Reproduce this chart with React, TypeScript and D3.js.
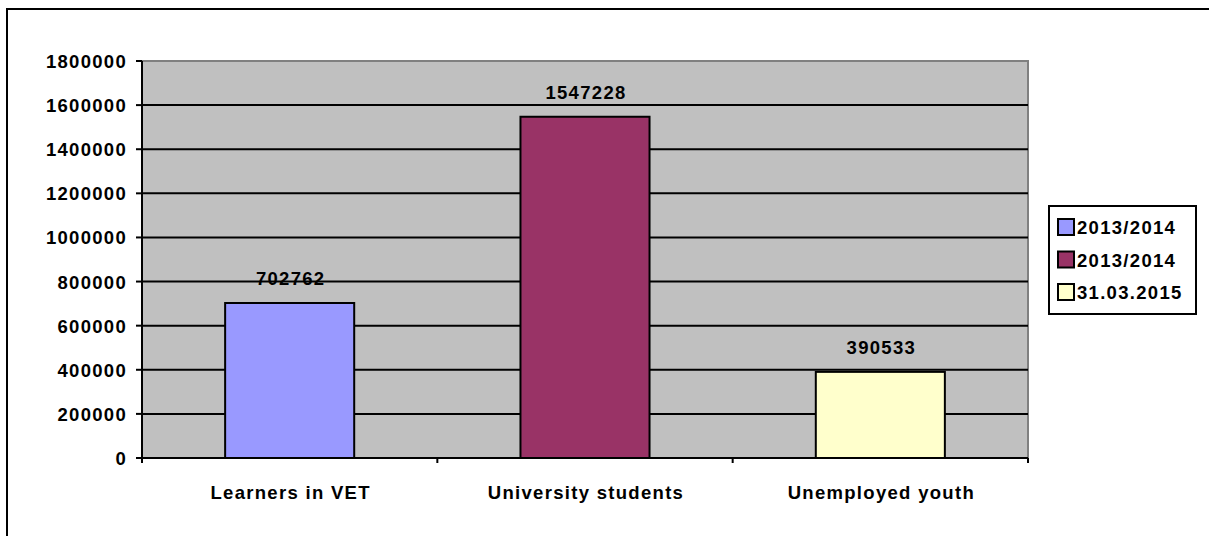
import React from 'react';
import * as d3 from 'd3';

// --- DATA ---
const categories = ['Learners in VET', 'University students', 'Unemployed youth'];
const values = [702762, 1547228, 390533];
const legendLabels = ['2013/2014', '2013/2014', '31.03.2015'];
const yTicks = [0, 200000, 400000, 600000, 800000, 1000000, 1200000, 1400000, 1600000, 1800000];

const barColors = ['#9999FF', '#993366', '#FFFFCC'];

const W = 1209;
const H = 536;
const plot = { left: 142, right: 1028, top: 61, bottom: 458 };
const font = 'Arial, "Liberation Sans", sans-serif';
const textStyle: React.CSSProperties = { fontFamily: font, fontWeight: 'bold', fontSize: 18.5, letterSpacing: 1.3 };

export default function App() {
  const x = d3.scaleBand<string>()
    .domain(categories)
    .range([plot.left, plot.right])
    .paddingInner(0.563)
    .paddingOuter(0.2815);
  const y = d3.scaleLinear().domain([0, 1800000]).range([plot.bottom, plot.top]);
  const step = x.step();
  const boundaries = d3.range(categories.length + 1).map(i => plot.left + i * step);

  // legend box
  const lg = { x: 1049, y: 206, w: 147, h: 108 };
  const itemGap = 32.5;
  const firstItem = lg.y + 21;

  return (
    <svg width={W} height={H} style={{ position: 'absolute', left: 0, top: 0, background: '#fff' }}>
      {/* outer frame */}
      <rect x={7} y={9} width={W + 100} height={H + 100} fill="#fff" stroke="#000" strokeWidth={2} />

      {/* plot area */}
      <rect x={plot.left} y={plot.top} width={plot.right - plot.left} height={plot.bottom - plot.top}
        fill="#C0C0C0" stroke="#808080" strokeWidth={2} />

      {/* gridlines */}
      {yTicks.filter(t => t > 0 && t < 1800000).map(t => (
        <line key={'g' + t} x1={plot.left} x2={plot.right} y1={y(t)} y2={y(t)} stroke="#000" strokeWidth={2} />
      ))}

      {/* bars */}
      {categories.map((c, i) => (
        <rect key={c} x={x(c)} y={y(values[i])} width={x.bandwidth()} height={y(0) - y(values[i])}
          fill={barColors[i]} stroke="#000" strokeWidth={2} />
      ))}

      {/* data labels */}
      {categories.map((c, i) => (
        <text key={'v' + c} x={(x(c) || 0) + x.bandwidth() / 2 + 1} y={y(values[i]) - 18}
          textAnchor="middle" style={textStyle}>{values[i]}</text>
      ))}

      {/* axes */}
      <line x1={plot.left} x2={plot.left} y1={plot.top} y2={plot.bottom} stroke="#000" strokeWidth={2} />
      <line x1={plot.left - 6} x2={plot.right} y1={plot.bottom} y2={plot.bottom} stroke="#000" strokeWidth={2} />
      {yTicks.map(t => (
        <g key={'t' + t}>
          <line x1={plot.left - 6} x2={plot.left} y1={y(t)} y2={y(t)} stroke="#000" strokeWidth={2} />
          <text x={127} y={y(t) + 7} textAnchor="end" style={textStyle}>{t}</text>
        </g>
      ))}
      {boundaries.map((b, i) => (
        <line key={'b' + i} x1={b} x2={b} y1={plot.bottom} y2={plot.bottom + 5} stroke="#000" strokeWidth={2} />
      ))}
      {categories.map(c => (
        <text key={'c' + c} x={(x(c) || 0) + x.bandwidth() / 2 + 1} y={499}
          textAnchor="middle" style={textStyle}>{c}</text>
      ))}

      {/* legend */}
      <rect x={lg.x} y={lg.y} width={lg.w} height={lg.h} fill="#fff" stroke="#000" strokeWidth={2} />
      {legendLabels.map((l, i) => {
        const cy = firstItem + i * itemGap;
        return (
          <g key={'l' + i}>
            <rect x={lg.x + 9} y={cy - 8} width={16} height={16} fill={barColors[i]} stroke="#000" strokeWidth={2} />
            <text x={lg.x + 28} y={cy + 7} style={textStyle}>{l}</text>
          </g>
        );
      })}
    </svg>
  );
}
